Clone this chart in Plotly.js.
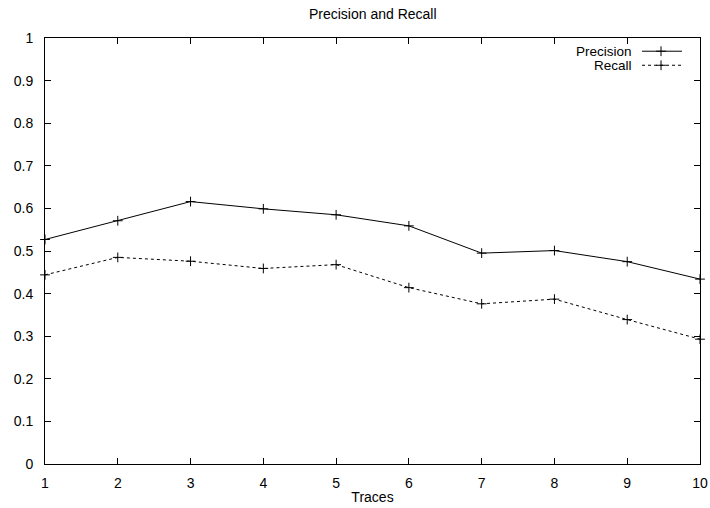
<!DOCTYPE html>
<html><head><meta charset="utf-8">
<script src="https://cdn.plot.ly/plotly-3.0.1.min.js"></script>
<style>body{margin:0;padding:0;background:#fff}#chart{width:710px;height:508px}</style>
</head><body><div id="chart"></div>
<script>
const traces = [1,2,3,4,5,6,7,8,9,10];
const precision = [0.527,0.571,0.616,0.599,0.585,0.559,0.495,0.501,0.475,0.434];
const recall = [0.444,0.485,0.476,0.459,0.468,0.414,0.376,0.387,0.339,0.293];
const seriesNames = ['Precision','Recall'];

const fam = '"Liberation Sans", Arial, sans-serif';
const font = {family:fam, size:14, color:'#000'};
const legFont = {family:fam, size:13.5, color:'#000'};
const mk = {symbol:'cross-thin-open', size:7, line:{width:1, color:'#000'}, color:'#000'};

const data = [
  {x:traces, y:precision, type:'scatter', mode:'lines+markers', name:seriesNames[0],
   line:{color:'#000', width:1}, marker:mk, showlegend:false, cliponaxis:false},
  {x:traces, y:recall, type:'scatter', mode:'lines+markers', name:seriesNames[1],
   line:{color:'#000', width:1, dash:'3px,3px'}, marker:mk, showlegend:false, cliponaxis:false},
  // legend samples on overlay paper-like axes
  {x:[0.9115,0.9725], y:[0.969,0.969], xaxis:'x2', yaxis:'y2', mode:'lines', line:{color:'#000',width:1}, showlegend:false, hoverinfo:'skip'},
  {x:[0.9405], y:[0.969], xaxis:'x2', yaxis:'y2', mode:'markers', marker:mk, showlegend:false, hoverinfo:'skip'},
  {x:[0.9115,0.9725], y:[0.936,0.936], xaxis:'x2', yaxis:'y2', mode:'lines', line:{color:'#000',width:1,dash:'3px,3px'}, showlegend:false, hoverinfo:'skip'},
  {x:[0.9405], y:[0.936], xaxis:'x2', yaxis:'y2', mode:'markers', marker:mk, showlegend:false, hoverinfo:'skip'}
];

const axCommon = {showline:true, mirror:'ticks', linecolor:'#000', linewidth:1,
  ticks:'inside', ticklen:6, tickcolor:'#000', tickwidth:1, showgrid:false, zeroline:false,
  tickfont:font, ticklabelstandoff:6, ticklabeloverflow:'allow'};

const layout = {
  width:710, height:508,
  margin:{l:45, r:10, t:38, b:44},
  paper_bgcolor:'#fff', plot_bgcolor:'#fff',
  font:font,
  title:{text:'Precision and Recall', font:font, x:0.525, xanchor:'center', y:0.972, yanchor:'middle'},
  xaxis:Object.assign({}, axCommon, {range:[1,10], dtick:1, tick0:1,
     title:{text:'Traces', font:font, standoff:2}}),
  yaxis:Object.assign({}, axCommon, {range:[0,1], dtick:0.1, tick0:0, ticklabelstandoff:8}),
  xaxis2:{overlaying:'x', range:[0,1], visible:false, fixedrange:true},
  yaxis2:{overlaying:'y', range:[0,1], visible:false, fixedrange:true},
  annotations:[
    {xref:'paper', yref:'paper', x:0.897, y:0.969, xanchor:'right', yanchor:'middle', text:seriesNames[0], showarrow:false, font:legFont, borderpad:0},
    {xref:'paper', yref:'paper', x:0.897, y:0.936, xanchor:'right', yanchor:'middle', text:seriesNames[1], showarrow:false, font:legFont, borderpad:0}
  ],
  showlegend:false
};
Plotly.newPlot('chart', data, layout, {displayModeBar:false, staticPlot:true});
</script></body></html>
